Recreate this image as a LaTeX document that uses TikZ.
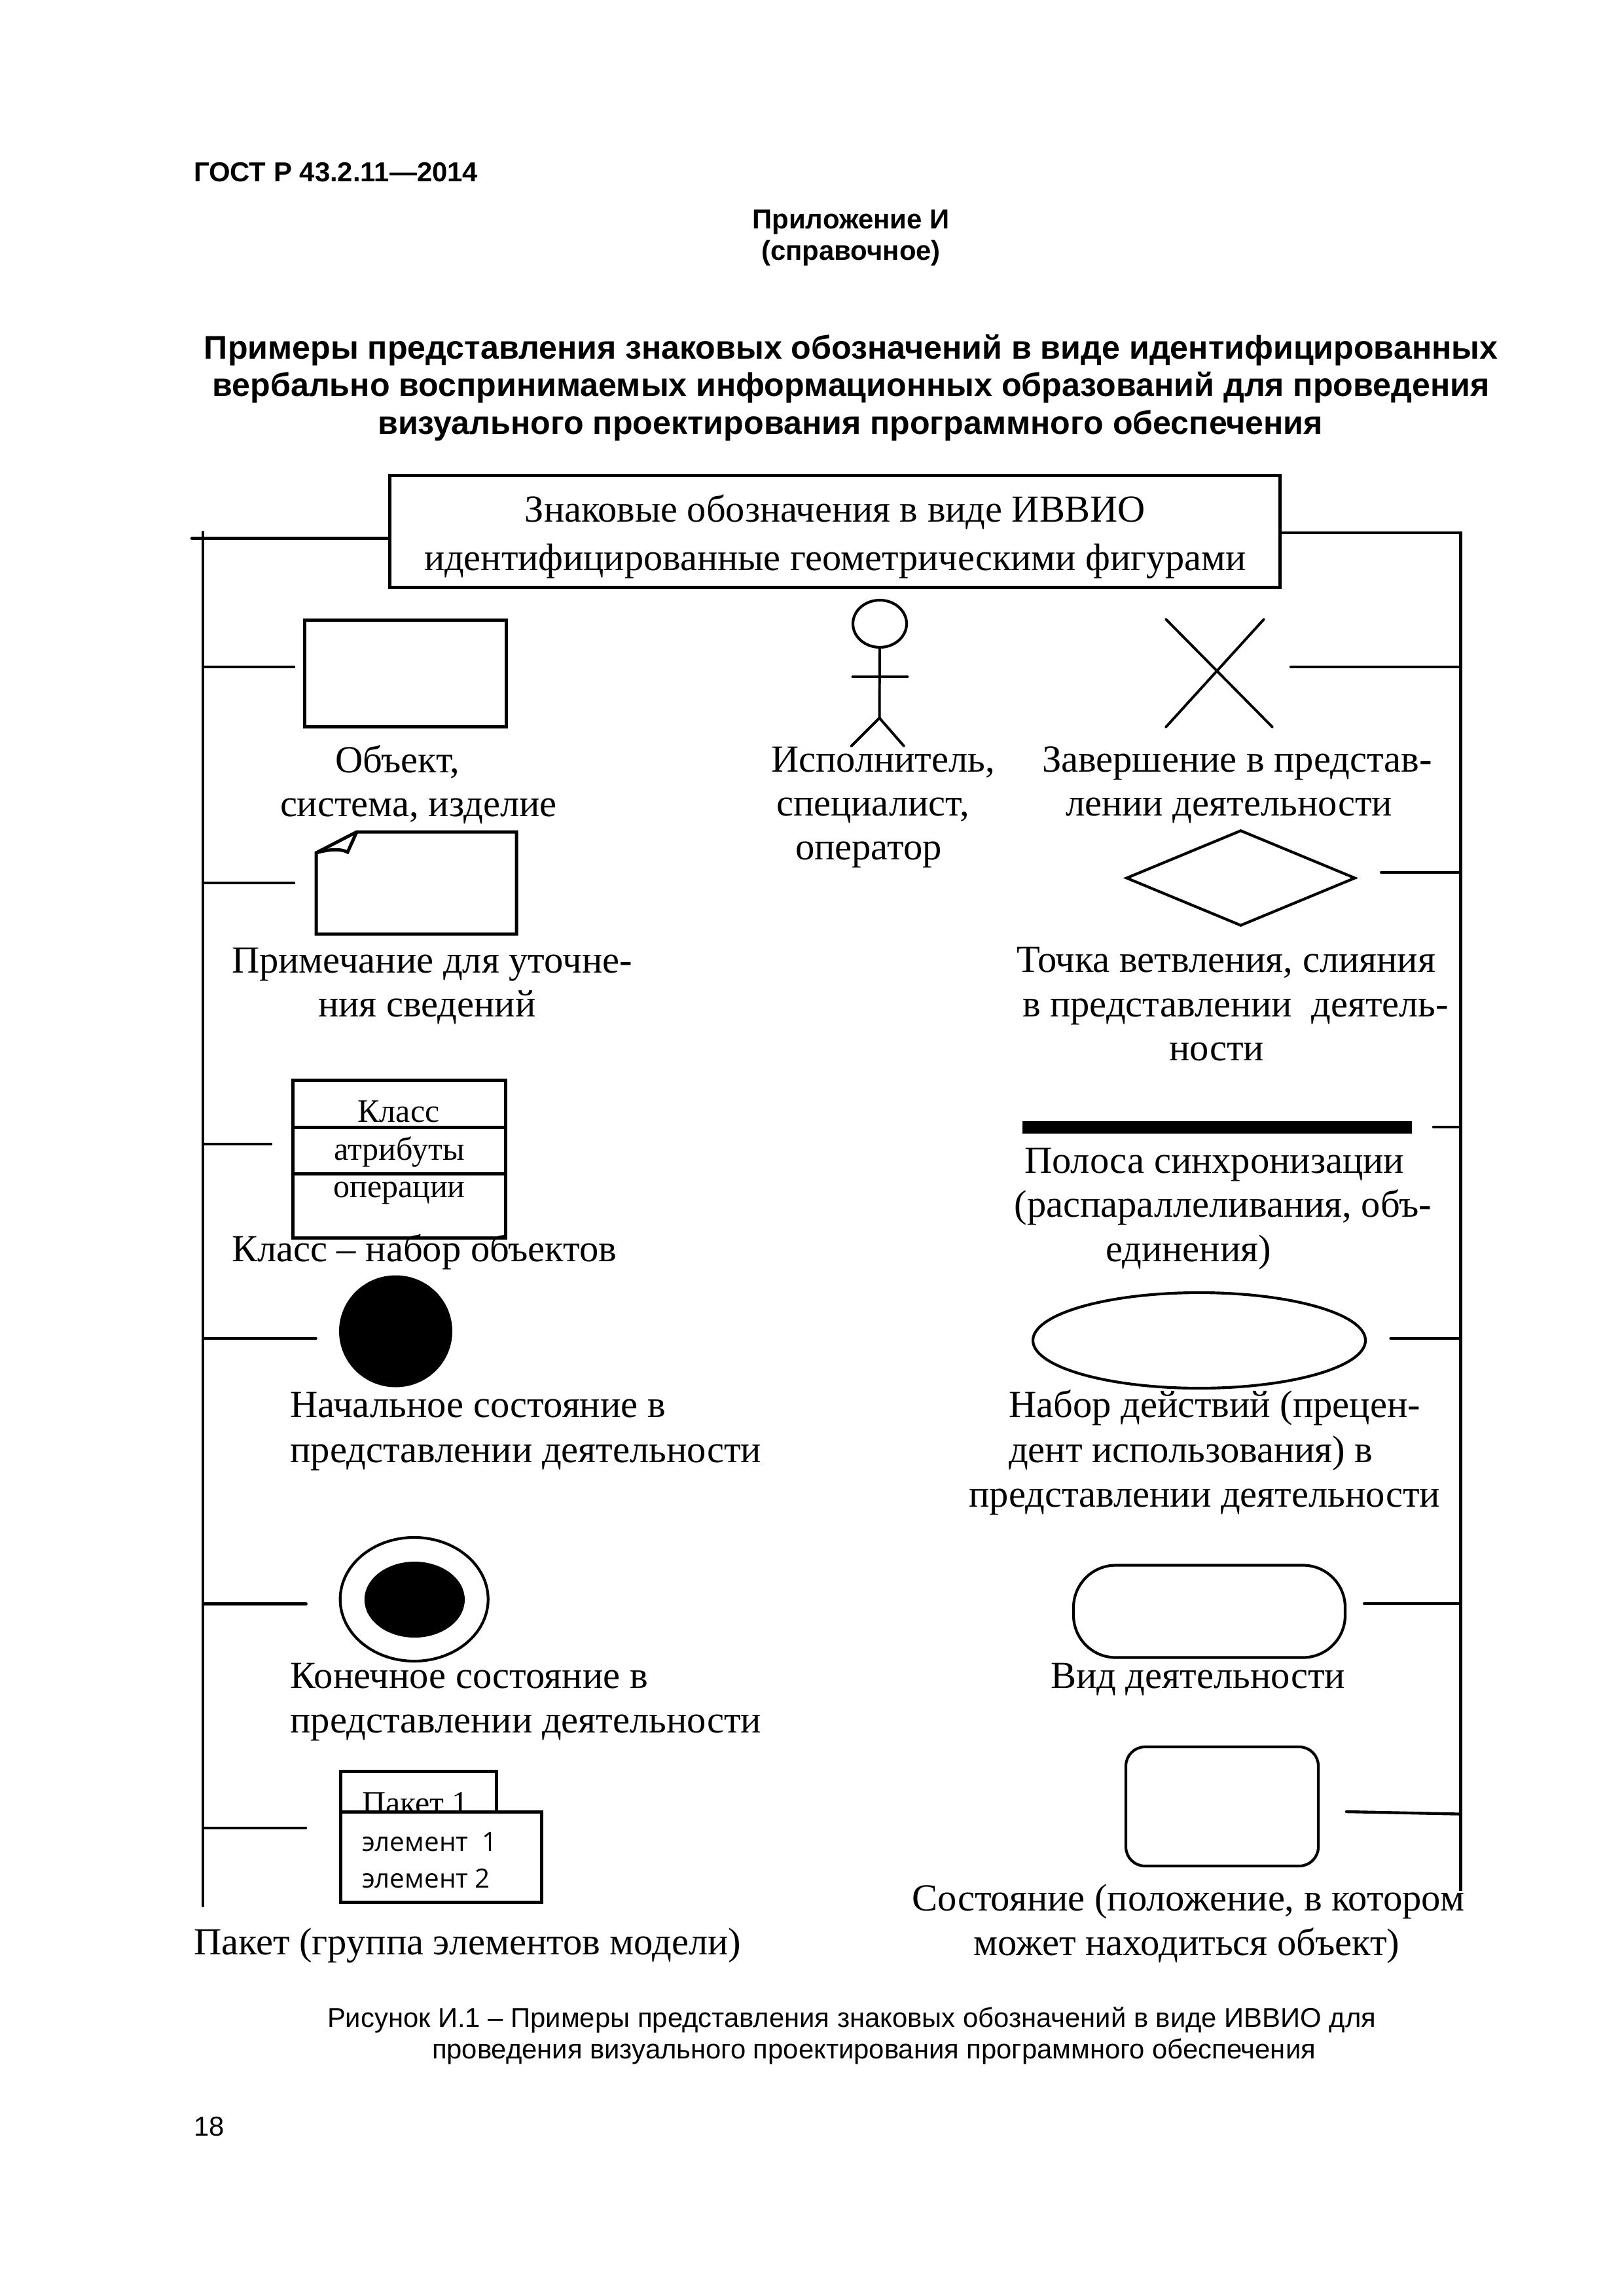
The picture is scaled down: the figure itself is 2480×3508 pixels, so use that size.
\documentclass[tikz,border=0pt]{standalone}
\usepackage{fontspec}
\setmainfont{Liberation Serif}
\setsansfont{Liberation Sans}
\newfontfamily\elemfont{Open Sans}
\usetikzlibrary{shapes.geometric,calc}
\tikzset{
  shp/.style={draw=black,line width=1.2pt,inner sep=0pt,outer sep=0pt,fill=none},
  thinshp/.style={shp,line width=1pt},
  conn/.style={draw=black,line width=1.05pt,line cap=round},
  fig/.style={draw=black,line width=0.95pt,line cap=round},
  txt/.style={inner sep=0pt,outer sep=0pt,anchor=base west,yshift=-0.4pt,font=\fontsize{14.05}{16}\selectfont},
  big/.style={txt,anchor=base,font=\fontsize{14}{17}\selectfont},
  small/.style={txt,font=\fontsize{12}{14}\selectfont},
  smallc/.style={small,anchor=base},
  elem/.style={txt,font=\elemfont\fontsize{9.7}{11}\selectfont},
  headb/.style={txt,font=\sffamily\bfseries\fontsize{10.05}{12}\selectfont},
  headc/.style={headb,anchor=base},
  titl/.style={txt,anchor=base,font=\sffamily\bfseries\fontsize{12.03}{14}\selectfont},
  capt/.style={txt,font=\sffamily\fontsize{10.03}{12}\selectfont}
}
\newcommand\pxbox[6][shp]{\node[#1,rectangle,minimum width={(#5-#3)*0.24pt},minimum height={(#6-#4)*0.24pt}] (#2) at ({(#3+#5)/2},{(#4+#6)/2}) {};}
\newcommand\pxell[6][thinshp]{\node[#1,ellipse,minimum width={2*#5*0.24pt},minimum height={2*#6*0.24pt}] (#2) at (#3,#4) {};}
\begin{document}
\begin{tikzpicture}[x=0.24pt,y=-0.24pt]
\useasboundingbox (0,0) rectangle (2480,3508);
\fill[white] (0,0) rectangle (2480,3508);
% header
\node[headb] (gost) at (296,276) {ГОСТ Р 43.2.11—2014};
\node[headc] (app) at (1300,348) {Приложение И};
\node[headc] (ref) at (1300,396) {(справочное)};
\node[titl] (t1) at (1300,547) {Примеры представления знаковых обозначений в виде идентифицированных};
\node[titl] (t2) at (1300,604) {вербально воспринимаемых информационных образований для проведения};
\node[titl] (t3) at (1299,662) {визуального проектирования программного обеспечения};
% top box
\pxbox{top}{595}{727}{1955}{898}
\node[big] (top1) at (1276,796) {Знаковые обозначения в виде ИВВИО};
\node[big] (top2) at (1276,870) {идентифицированные геометрическими фигурами};
% buses
\coordinate (busL) at (310,813);
\coordinate (busLend) at (310,2912);
\coordinate (tickL) at (293,822.5);
\coordinate (busR) at (2231.5,814);
\coordinate (busRend) at (2231.5,2889);
\draw[conn] (busL) -- (busLend);
\draw[conn] (tickL) -- (tickL -| top.west);
\draw[conn,line join=miter,line cap=butt] (top.east |- busR) -- (busR) -- (busRend);
% stubs left
\foreach \n/\x/\y in {sa/449/1019,sb/449/1349,sc/414/1748,sd/482.6/2045,se/467.7/2450.5,sf/467/2793}{
  \coordinate (\n) at (\x,\y);
  \draw[conn] (\n) -- (\n -| busL);
}
% stubs right
\foreach \n/\x/\y in {ra/1972/1019,rb/2110/1333,rc/2190/1722,rd/2124.5/2045,re/2084/2450}{
  \coordinate (\n) at (\x,\y);
  \draw[conn] (\n) -- (\n -| busR);
}
\coordinate (rf) at (2057,2768);
\coordinate (rfb) at (2231.5,2771.6);
\draw[conn] (rf) -- (rfb);
% object
\pxbox{obj}{465}{947.5}{773}{1110}
\node[txt] (o1) at (512,1178.5) {Объект,};
\node[txt] (o2) at (428,1246) {система, изделие};
% note
\draw[shp,line join=miter] (483,1303) -- (545,1271) -- (789,1271) -- (789,1427) -- (483,1427) -- cycle;
\draw[shp,line join=miter] (483,1303) .. controls (500,1298) and (520,1296) .. (531,1302) -- (545,1271);
\node[txt] (n1) at (354,1485) {Примечание для уточне-};
\node[txt] (n2) at (486,1552) {ния сведений};
% class
\pxbox{cls}{447}{1650}{772}{1891}
\coordinate (c1) at (447,1722);
\coordinate (c2) at (447,1793);
\draw[shp] (c1) -- (c1 -| cls.east);
\draw[shp] (c2) -- (c2 -| cls.east);
\node[smallc] (cl1) at (609,1713) {Класс};
\node[smallc] (cl2) at (610,1771) {атрибуты};
\node[smallc] (cl3) at (610,1828) {операции};
\node[txt] (cl4) at (354,1926) {Класс – набор объектов};
% initial
\pxell[draw=none,fill=black,inner sep=0pt,outer sep=0pt]{ini}{604.5}{2034}{86.5}{85.5}
\node[txt] (i1) at (443.6,2164) {Начальное состояние в};
\node[txt] (i2) at (443.6,2232.6) {представлении деятельности};
% final
\pxell{fin}{632.7}{2443.5}{113}{94.5}
\pxell[draw=none,fill=black,inner sep=0pt,outer sep=0pt]{fini}{633.4}{2444}{76.6}{58}
\node[txt] (f1) at (443.6,2577.5) {Конечное состояние в};
\node[txt] (f2) at (443.6,2646) {представлении деятельности};
% package
\pxbox{pk}{520}{2706}{758}{2768}
\node[small] (pk1) at (553,2770) {Пакет 1};
\pxbox[shp,fill=white]{pkb}{520}{2768}{827}{2906}
\node[elem] (e1) at (553,2827) {элемент\ \ 1};
\node[elem] (e2) at (553,2883) {элемент 2};
\node[txt] (pk2) at (296,2985) {Пакет (группа элементов модели)};
% actor
\pxell{head}{1344}{953}{41}{36}
\coordinate (hip) at (1343.5,1097);
\coordinate (armL) at (1303,1034);
\coordinate (armR) at (1386,1034);
\coordinate (legL) at (1300.5,1140);
\coordinate (legR) at (1381,1140);
\draw[fig] (head.south) -- (hip);
\draw[fig,line width=1.15pt] (armL) -- (armR);
\draw[fig,line join=miter] (legL) -- (hip) -- (legR);
\node[txt] (a1) at (1178,1178) {Исполнитель,};
\node[txt] (a2) at (1186,1244.5) {специалист,};
\node[txt] (a3) at (1215,1311.5) {оператор};
% cross
\coordinate (xa) at (1781,946);
\coordinate (xb) at (1944,1111);
\coordinate (xc) at (1931,946);
\coordinate (xd) at (1781,1111);
\draw[fig] (xa) -- (xb);
\draw[fig] (xc) -- (xd);
\node[txt] (x1) at (1592,1178) {Завершение в представ-};
\node[txt] (x2) at (1628,1244.5) {лении деятельности};
% diamond
\node[thinshp,diamond,minimum width={348.6*0.24pt},minimum height={144.5*0.24pt}] (dia) at (1895.5,1341.5) {};
\node[txt] (d1) at (1553.6,1484) {Точка ветвления, слияния};
\node[txt] (d2) at (1562,1551.6) {в представлении\ \ деятель-};
\node[txt] (d3) at (1786,1619) {ности};
% bar
\pxbox[draw=none,fill=black,inner sep=0pt,outer sep=0pt]{bar}{1562}{1713}{2157}{1732}
\node[txt] (b1) at (1565,1791) {Полоса синхронизации};
\node[txt] (b2) at (1549.5,1858) {(распараллеливания, объ-};
\node[txt] (b3) at (1689,1925.6) {единения)};
% ellipse
\pxell{usec}{1832}{2048}{254}{73}
\node[txt] (u1) at (1541,2164) {Набор действий (прецен-};
\node[txt] (u2) at (1541,2233) {дент использования) в};
\node[txt] (u3) at (1480.6,2300.5) {представлении деятельности};
% activity
\pxbox[thinshp,rounded corners=15.5pt]{act}{1640}{2391.5}{2055}{2532.5}
\node[txt] (v1) at (1605,2578) {Вид деятельности};
% state
\pxbox[thinshp,rounded corners=7pt]{st}{1720}{2669}{2014}{2851}
\node[txt,anchor=base east] (s1) at (2237,2918) {Состояние (положение, в котором};
\node[txt,anchor=base east] (s2) at (2138,2986) {может находиться объект)};
% caption
\node[capt] (k1) at (500,3095.7) {Рисунок И.1 – Примеры представления знаковых обозначений в виде ИВВИО для};
\node[capt] (k2) at (660,3143.7) {проведения визуального проектирования программного обеспечения};
\node[capt] (pg) at (296,3261.7) {18};
\end{tikzpicture}
\end{document}
